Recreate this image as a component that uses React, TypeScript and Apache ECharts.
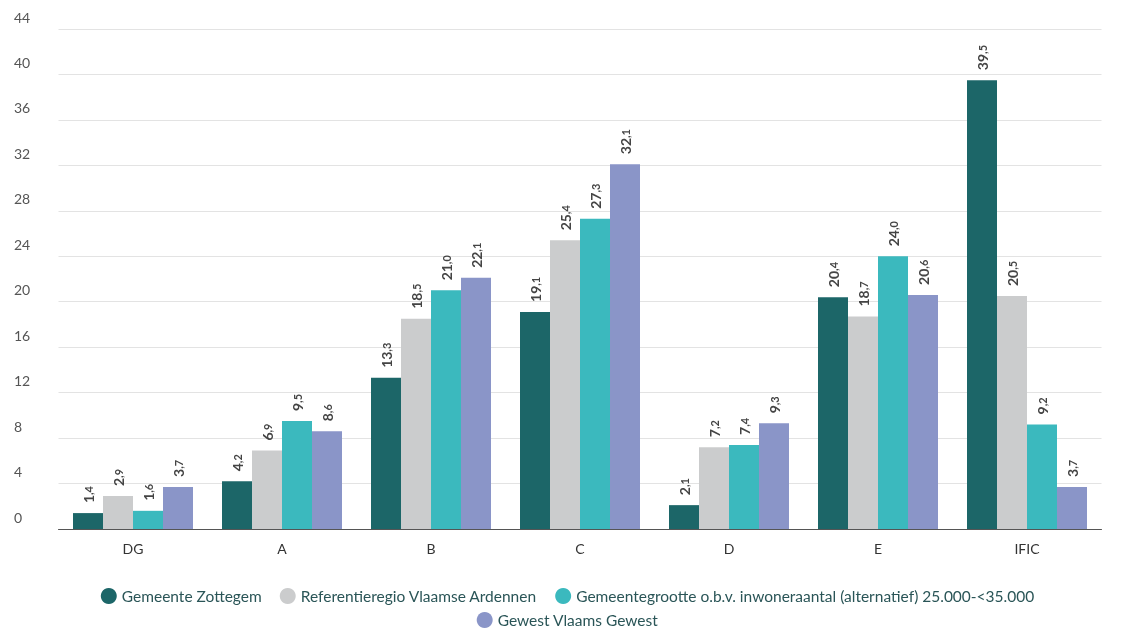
import React, { useEffect, useRef } from "react";
import * as echarts from "echarts";

const categories = ["DG", "A", "B", "C", "D", "E", "IFIC"];
const seriesNames = [
  "Gemeente Zottegem",
  "Referentieregio Vlaamse Ardennen",
  "Gemeentegrootte o.b.v. inwoneraantal (alternatief) 25.000-<35.000",
  "Gewest Vlaams Gewest",
];
const zottegem = [1.4, 4.2, 13.3, 19.1, 2.1, 20.4, 39.5];
const referentie = [2.9, 6.9, 18.5, 25.4, 7.2, 18.7, 20.5];
const grootte = [1.6, 9.5, 21.0, 27.3, 7.4, 24.0, 9.2];
const gewest = [3.7, 8.6, 22.1, 32.1, 9.3, 20.6, 3.7];
const colors = ["#1c6668", "#cbcccd", "#3bb9be", "#8a95c8"];
const FONT = "Lato";
const BAR_W = 30;

export default function App() {
  const ref = useRef<HTMLDivElement>(null);
  useEffect(() => {
    if (!ref.current) return;
    const chart = echarts.init(ref.current, undefined, { renderer: "svg" });
    const dataSets = [zottegem, referentie, grootte, gewest];
    const legendCommon = {
      left: "center",
      itemWidth: 16,
      itemHeight: 16,
      itemGap: 18,
      icon: "circle",
      textStyle: { color: "#2a5557", fontSize: 15.5, fontFamily: FONT },
    };
    const barSeries = dataSets.map((d, i) => ({
      name: seriesNames[i],
      type: "bar",
      barWidth: BAR_W,
      barGap: "0%",
      itemStyle: { color: colors[i] },
      data: d,
      label: {
        show: true,
        position: "top",
        rotate: 90,
        align: "left",
        verticalAlign: "middle",
        distance: 10,
        fontSize: 14,
        fontWeight: "bold",
        color: "#444",
        fontFamily: FONT,
        formatter: (p: any) => {
          const [a, b] = Number(p.value).toFixed(1).split(".");
          return `{a|${a}}{b|,${b}}`;
        },
        rich: {
          a: { fontSize: 14, fontWeight: "bold", color: "#444", fontFamily: FONT },
          b: { fontSize: 11, fontWeight: "bold", color: "#444", fontFamily: FONT },
        },
      },
    }));
    chart.setOption({
      animation: false,
      grid: { left: 58.5, width: 1043, top: 29, bottom: 100 },
      xAxis: {
        type: "category",
        data: categories,
        axisLine: { lineStyle: { color: "#555" } },
        axisTick: { show: false },
        axisLabel: { color: "#333", fontSize: 14, margin: 12, fontFamily: FONT },
      },
      yAxis: {
        type: "value",
        min: 0,
        max: 44,
        interval: 4,
        axisLine: { show: false },
        axisTick: { show: false },
        axisLabel: {
          color: "#555",
          fontSize: 14,
          fontFamily: FONT,
          align: "left",
          margin: 44.5,
          verticalAlign: "bottom",
          padding: [0, 0, 5, 0],
        },
        splitLine: { lineStyle: { color: "#e3e3e3" } },
      },
      legend: [
        { ...legendCommon, top: 583, data: seriesNames.slice(0, 3) },
        { ...legendCommon, top: 607, data: seriesNames.slice(3) },
      ],
      series: barSeries,
    });
    return () => chart.dispose();
  }, []);
  return (
    <div
      ref={ref}
      style={{ position: "fixed", left: 0, top: 0, width: 1135, height: 629 }}
    />
  );
}
